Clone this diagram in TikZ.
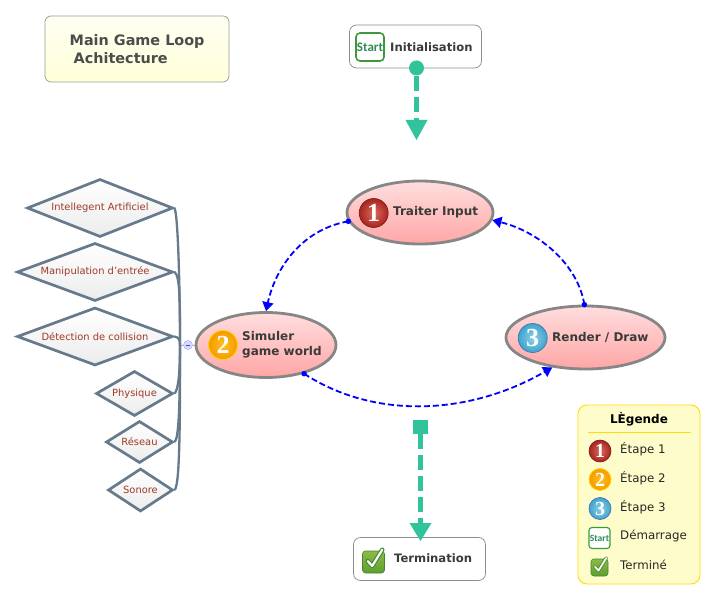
\documentclass[tikz,border=0pt]{standalone}
\usepackage{fontspec}
\setmainfont{DejaVu Sans}
\newfontfamily\numfont{Liberation Serif}
\newfontfamily\startfont{Carlito}
\usetikzlibrary{shapes.geometric,arrows.meta,calc}
\definecolor{teal1}{HTML}{30C39C}
\definecolor{slate}{HTML}{667A8C}
\definecolor{labelred}{HTML}{9E3A28}
\definecolor{inktext}{HTML}{3A3A3A}
\definecolor{startgreen}{HTML}{2E8B57}
\definecolor{startedge}{HTML}{3C9A3C}
\definecolor{chktop}{HTML}{8DBB45}
\definecolor{chkbot}{HTML}{5E9E2E}
\definecolor{chkedge}{HTML}{3F8A2E}
\definecolor{redin}{HTML}{DB6A60}
\definecolor{redout}{HTML}{A8241E}
\definecolor{orin}{HTML}{FFC020}
\definecolor{orout}{HTML}{F59A00}
\definecolor{orring}{HTML}{FFD800}
\definecolor{blin}{HTML}{8FD0E6}
\definecolor{blout}{HTML}{3FA4CC}
\definecolor{blring}{HTML}{3F78B8}
\tikzset{
  x=1pt,y=-1pt,
  stepell/.style={ellipse,draw=gray!95,line width=2.8pt,top color=red!13!white,bottom color=red!35!white,inner sep=0pt},
  steptext/.style={font=\fontsize{12}{15.5}\selectfont\bfseries,text=inktext,align=left,anchor=west,inner sep=0pt},
  dia/.style={diamond,draw=slate,line width=2.7pt,top color=white,bottom color=gray!15,aspect=2.5,inner sep=0pt,font=\fontsize{9.9}{10}\selectfont,text=labelred},
  busline/.style={draw=slate,line width=2.3pt},
  cyc/.style={draw=blue,line width=1.8pt,dash pattern=on 6pt off 3pt,-{Triangle[length=9pt,width=11pt]}},
  cycdot/.style={circle,fill=blue,inner sep=0pt,minimum size=5.5pt},
  bigflow/.style={draw=teal1,line width=5pt,dash pattern=on 15pt off 6pt},
  whitebox/.style={draw=gray!90,rounded corners=7pt,fill=white,line width=.7pt},
  badge/.style={circle,inner sep=0pt,minimum size=#1,text=white},
  redb/.style={badge=#1,draw=redout!70!black,shade,inner color=redin,outer color=redout,line width=.6pt},
  orangeb/.style={badge=#1,draw=orring,shade,inner color=orin,outer color=orout,line width=.8pt},
  blueb/.style={badge=#1,draw=blring,shade,inner color=blin,outer color=blout,line width=.7pt},
  startb/.style={draw=startedge,fill=white,rounded corners=4pt,line width=1.6pt,inner sep=0pt,text=startgreen},
  legtext/.style={anchor=west,inner sep=0pt,font=\fontsize{11.8}{14}\selectfont,text=black!85},
}
\newcommand{\checkicon}[3]{%
  \node[draw=chkedge,rounded corners=3pt,top color=chktop,bottom color=chkbot,line width=.6pt,minimum size=#3,inner sep=0pt] (#1) at (#2) {};
  \draw[chkedge,line width=.2*#3,line cap=round,line join=round]
    ($(#1)+(-.26*#3,.04*#3)$) -- ($(#1)+(-.06*#3,-.18*#3)$) -- ($(#1)+(.4*#3,.56*#3)$);
  \draw[white,line width=.1*#3,line cap=round,line join=round]
    ($(#1)+(-.26*#3,.04*#3)$) -- ($(#1)+(-.06*#3,-.18*#3)$) -- ($(#1)+(.4*#3,.56*#3)$);
}
\begin{document}
\begin{tikzpicture}
\useasboundingbox (0,0) rectangle (717,601);

% title
\node[draw=gray!80,rounded corners=6pt,top color=yellow!5!white,bottom color=yellow!15!white,line width=.7pt,minimum width=184pt,minimum height=66pt,inner sep=0pt] (title) at (137,49) {};
\node[anchor=west,inner sep=0pt,align=left,font=\fontsize{14.4}{18}\selectfont\bfseries,text=black!70] (titletext) at (69.5,49.5) {Main Game Loop\\ \hspace*{4pt}Achitecture};

% start / end boxes
\node[whitebox,minimum width=132pt,minimum height=43pt,inner sep=0pt] (init) at (415.5,46.5) {};
\node[startb,minimum size=28pt,font=\startfont\bfseries\fontsize{13}{14}\selectfont] (starticon) at (370,47) {Start};
\node[steptext,font=\fontsize{11.6}{14}\selectfont\bfseries] (inittext) at (390,47.5) {Initialisation};
\node[whitebox,minimum width=132pt,minimum height=43pt,inner sep=0pt] (term) at (419.5,559) {};
\checkicon{checkicon}{373.5,562}{22pt}
\node[steptext,font=\fontsize{11.6}{14}\selectfont\bfseries] (termtext) at (394,558.5) {Termination};

% main ellipses
\node[stepell,minimum width=146pt,minimum height=63pt] (E1) at (420,212.5) {};
\node[stepell,minimum width=140pt,minimum height=65pt] (E2) at (266,345) {};
\node[stepell,minimum width=159pt,minimum height=63pt] (E3) at (585.5,337.5) {};
\node[redb=29pt,font=\numfont\bfseries\fontsize{26}{26}\selectfont] (b1) at (373.7,213) {1};
\node[orangeb=29pt,font=\numfont\bfseries\fontsize{26}{26}\selectfont] (b2) at (223,345) {2};
\node[blueb=29pt,font=\numfont\bfseries\fontsize{26}{26}\selectfont] (b3) at (532.7,338) {3};
\node[steptext] (t1) at (393,212.5) {Traiter Input};
\node[steptext] (t2) at (242,344.5) {Simuler\\game world};
\node[steptext] (t3) at (552,337.5) {Render / Draw};

% cycle connectors
\draw[cyc] (E1.187) .. controls (300,230) and (275,270) .. (E2.90);
\draw[cyc] (E3.92) .. controls (578,265) and (540,232) .. (E1.-6);
\draw[cyc] (E2.-37) .. controls (375,420) and (470,415) .. (E3.222);
\node[cycdot] (d1) at (E1.187) {};
\node[cycdot] (d2) at (E3.92) {};
\node[cycdot] (d3) at (E2.-37) {};

% teal flows
\node[circle,fill=teal1,inner sep=0pt,minimum size=15pt] (initdot) at (416.5,68) {};
\coordinate (inittip) at (416.5,140);
\draw[bigflow] (initdot) -- ($(inittip)+(0,-16)$);
\fill[teal1] (inittip) -- ++(-11,-20) -- ++(22,0) -- cycle;
\node[fill=teal1,inner sep=0pt,minimum size=14.5pt] (endsq) at (420.5,427) {};
\coordinate (termtip) at (420.5,541);
\draw[bigflow] (endsq) -- ($(termtip)+(0,-15)$);
\fill[teal1] (termtip) -- ++(-11,-18) -- ++(22,0) -- cycle;

% diamonds
\node[dia,minimum width=146pt,minimum height=58pt] (D1) at (100,208) {Intellegent Artificiel};
\node[dia,minimum width=156pt,minimum height=58pt] (D2) at (95,272) {Manipulation d'entrée};
\node[dia,minimum width=156pt,minimum height=58pt] (D3) at (95,336.5) {Détection de collision};
\node[dia,minimum width=77pt,minimum height=45pt] (D4) at (134.5,393.5) {Physique};
\node[dia,minimum width=67pt,minimum height=42pt] (D5) at (139.5,442) {Réseau};
\node[dia,minimum width=65pt,minimum height=43pt] (D6) at (140.5,490) {Sonore};

% bus
\coordinate (hub) at (180,345);
\node[circle,draw=blue!30,fill=blue!15,minimum size=9pt,inner sep=0pt,line width=.6pt] (minus) at (188,345) {};
\draw[blue!45!gray,line width=.7pt] ($(minus)+(-2.3pt,0pt)$) -- ($(minus)+(2.3pt,0pt)$);
\draw[gray!70,line width=1pt] (hub) -- (minus);
\draw[gray!70,line width=1pt] (minus) -- (E2);
\draw[busline] (D1.east) .. controls (178,212) and (180,290) .. (hub);
\draw[busline] (D2.east) .. controls (180,275) and (180,300) .. (hub);
\draw[busline] (D3.east) .. controls (178,337) and (180,339) .. (hub);
\draw[busline] (D4.east) .. controls (178,391) and (180,375) .. (hub);
\draw[busline] (D5.east) .. controls (179,441) and (180,400) .. (hub);
\draw[busline] (D6.east) .. controls (180,488) and (180,420) .. (hub);

% legend
\node[draw=yellow!80!orange,rounded corners=9pt,fill=yellow!20!white,line width=.9pt,minimum width=122pt,minimum height=179pt,inner sep=0pt] (legend) at (639,494.5) {};
\node[inner sep=0pt,font=\fontsize{12}{14}\selectfont\bfseries] (legtitle) at (639,419.5) {LÈgende};
\coordinate (rulel) at (588,432);
\coordinate (ruler) at (691,432);
\draw[yellow!80!orange,line width=.7pt] (rulel) -- (ruler);
\node[redb=22pt,font=\numfont\bfseries\fontsize{20}{20}\selectfont] (lb1) at (600,451) {1};
\node[orangeb=22pt,font=\numfont\bfseries\fontsize{20}{20}\selectfont] (lb2) at (600,479.5) {2};
\node[blueb=22pt,font=\numfont\bfseries\fontsize{20}{20}\selectfont] (lb3) at (600,508.5) {3};
\node[startb,minimum size=21pt,rounded corners=3pt,line width=1.1pt,font=\startfont\bfseries\fontsize{9.5}{10}\selectfont] (lstart) at (599.5,538) {Start};
\checkicon{lcheck}{599.5,567.5}{17pt}
\node[legtext] (lt1) at (620,449.5) {Étape 1};
\node[legtext] (lt2) at (620,478.5) {Étape 2};
\node[legtext] (lt3) at (620,507.5) {Étape 3};
\node[legtext] (lt4) at (620,536.5) {Démarrage};
\node[legtext] (lt5) at (620,565) {Terminé};
\end{tikzpicture}
\end{document}
